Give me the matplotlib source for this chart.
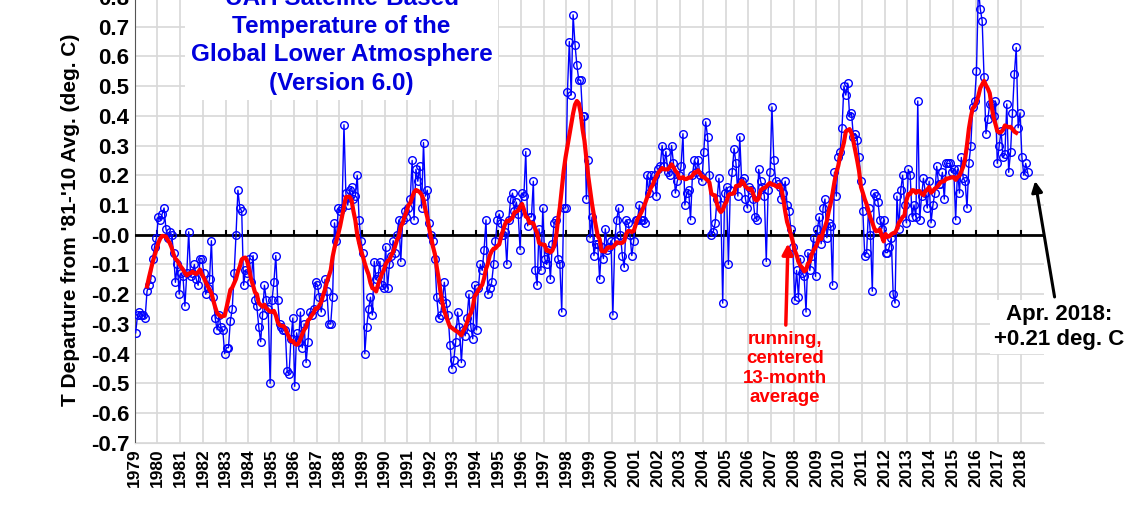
import numpy as np
import matplotlib.pyplot as plt

plt.rcParams['font.family'] = ['Liberation Sans', 'DejaVu Sans']

# UAH v6.0 monthly anomalies (deg. C), Jan 1979 .. Apr 2018
temps = [
    -0.33, -0.27, -0.26, -0.27, -0.27, -0.28, -0.19, -0.17, -0.15, -0.08, -0.04, -0.01,  # 1979
    0.06, 0.05, 0.07, 0.09, 0.02, -0.01, 0.01, 0.00, -0.06, -0.16, -0.10, -0.20,  # 1980
    -0.13, -0.14, -0.24, -0.13, 0.01, -0.14, -0.13, -0.10, -0.15, -0.17, -0.08, -0.08,  # 1981
    -0.13, -0.20, -0.18, -0.15, -0.02, -0.21, -0.28, -0.32, -0.27, -0.31, -0.32, -0.40,  # 1982
    -0.38, -0.38, -0.29, -0.25, -0.13, 0.00, 0.15, 0.09, 0.08, -0.17, -0.12, -0.13,  # 1983
    -0.08, -0.16, -0.07, -0.22, -0.24, -0.31, -0.36, -0.27, -0.17, -0.22, -0.25, -0.50,  # 1984
    -0.22, -0.16, -0.07, -0.22, -0.30, -0.31, -0.32, -0.32, -0.46, -0.47, -0.35, -0.28,  # 1985
    -0.51, -0.33, -0.36, -0.26, -0.38, -0.30, -0.43, -0.36, -0.26, -0.27, -0.25, -0.16,  # 1986
    -0.17, -0.21, -0.26, -0.21, -0.15, -0.19, -0.30, -0.30, -0.21, 0.04, -0.02, 0.09,  # 1987
    0.08, 0.09, 0.37, 0.14, 0.10, 0.15, 0.16, 0.12, 0.13, 0.20, 0.05, -0.02,  # 1988
    -0.06, -0.40, -0.31, -0.25, -0.21, -0.27, -0.09, -0.15, -0.14, -0.09, -0.17, -0.18,  # 1989
    -0.04, -0.18, -0.10, -0.07, -0.02, -0.06, 0.00, 0.05, -0.09, 0.05, 0.08, 0.06,  # 1990
    0.09, 0.12, 0.25, 0.05, 0.22, 0.18, 0.23, 0.09, 0.31, 0.13, 0.15, 0.04,  # 1991
    0.00, -0.02, -0.08, -0.21, -0.28, -0.27, -0.22, -0.16, -0.23, -0.27, -0.37, -0.45,  # 1992
    -0.42, -0.36, -0.26, -0.31, -0.43, -0.32, -0.34, -0.28, -0.20, -0.31, -0.35, -0.17,  # 1993
    -0.32, -0.18, -0.10, -0.12, -0.05, 0.05, -0.20, -0.18, -0.16, -0.10, -0.02, 0.05,  # 1994
    0.07, 0.04, 0.00, 0.01, -0.10, 0.05, 0.12, 0.14, 0.08, 0.11, 0.07, -0.05,  # 1995
    0.14, 0.13, 0.28, 0.03, 0.06, 0.06, 0.18, -0.12, -0.17, 0.02, -0.12, 0.09,  # 1996
    -0.08, -0.10, -0.05, -0.15, -0.03, 0.04, 0.05, -0.08, -0.10, -0.26, 0.09, 0.09,  # 1997
    0.48, 0.65, 0.47, 0.74, 0.64, 0.57, 0.52, 0.52, 0.40, 0.40, 0.12, 0.25,  # 1998
    -0.01, 0.06, -0.07, -0.03, -0.03, -0.15, -0.04, -0.08, 0.02, -0.05, -0.04, -0.02,  # 1999
    -0.27, -0.02, 0.05, 0.09, 0.00, -0.07, -0.11, 0.05, 0.04, 0.00, -0.07, -0.02,  # 2000
    0.05, 0.05, 0.10, 0.05, 0.05, 0.04, 0.20, 0.14, 0.20, 0.18, 0.20, 0.13,  # 2001
    0.22, 0.23, 0.30, 0.23, 0.28, 0.21, 0.20, 0.30, 0.24, 0.14, 0.18, 0.20,  # 2002
    0.23, 0.34, 0.10, 0.14, 0.15, 0.05, 0.20, 0.25, 0.21, 0.25, 0.20, 0.18,  # 2003
    0.28, 0.38, 0.33, 0.20, 0.00, 0.01, 0.04, 0.12, 0.19, 0.10, -0.23, 0.14,  # 2004
    0.16, -0.10, 0.15, 0.21, 0.29, 0.24, 0.13, 0.33, 0.18, 0.19, 0.12, 0.09,  # 2005
    0.16, 0.15, 0.12, 0.06, 0.05, 0.22, 0.18, 0.16, 0.13, -0.09, 0.15, 0.21,  # 2006
    0.43, 0.25, 0.18, 0.17, 0.16, 0.12, 0.14, 0.18, 0.10, 0.08, 0.02, -0.04,  # 2007
    -0.22, -0.12, -0.21, -0.08, -0.13, -0.14, -0.26, -0.06, -0.12, -0.07, -0.01, -0.14,  # 2008
    0.02, 0.06, -0.03, 0.09, 0.12, -0.01, 0.04, 0.03, -0.17, 0.21, 0.13, 0.26,  # 2009
    0.28, 0.36, 0.50, 0.47, 0.51, 0.40, 0.41, 0.33, 0.34, 0.32, 0.26, 0.18,  # 2010
    0.08, -0.07, -0.06, 0.09, 0.00, -0.19, 0.14, 0.13, 0.11, 0.05, 0.02, 0.05,  # 2011
    -0.06, -0.06, -0.04, -0.01, -0.20, -0.23, 0.13, 0.02, 0.15, 0.20, 0.10, 0.04,  # 2012
    0.22, 0.20, 0.06, 0.10, 0.06, 0.45, 0.05, 0.13, 0.19, 0.14, 0.09, 0.18,  # 2013
    0.04, 0.10, 0.14, 0.23, 0.17, 0.17, 0.21, 0.12, 0.24, 0.24, 0.24, 0.21,  # 2014
    0.22, 0.05, 0.22, 0.14, 0.26, 0.19, 0.18, 0.09, 0.24, 0.30, 0.43, 0.45,  # 2015
    0.55, 0.83, 0.76, 0.72, 0.53, 0.34, 0.39, 0.44, 0.44, 0.40, 0.45, 0.24,  # 2016
    0.30, 0.35, 0.26, 0.27, 0.44, 0.21, 0.28, 0.41, 0.54, 0.63, 0.36, 0.41,  # 2017
    0.26, 0.20, 0.24, 0.21,  # 2018
]
years = list(range(1979, 2019))

temps = np.array(temps)
t = 1979 + np.arange(len(temps)) / 12.0 + 1 / 24.0
# running, centered 13-month average
run = np.convolve(temps, np.ones(13) / 13, mode='valid')
t_run = t[6:-6]

fig = plt.figure(figsize=(11.32, 5.09), dpi=100)
ax = fig.add_axes([0.119, 0.130, 0.803, 0.876])

ax.set_xlim(1979, 2019)
ax.set_ylim(-0.7, 0.8)
ax.set_xticks(years)
ax.set_xticklabels([str(y) for y in years], rotation=90, fontsize=12.5, fontweight='bold')
ax.set_yticks(np.round(np.arange(-0.7, 0.81, 0.1), 1))
ax.set_yticklabels(['%.1f' % v for v in np.arange(-0.7, 0.81, 0.1)], fontsize=16, fontweight='bold')
ax.tick_params(axis='both', length=0, pad=4)
ax.grid(True, color='#d8d8d8', lw=1.2)
ax.set_axisbelow(True)
for s in ['top', 'right']:
    ax.spines[s].set_visible(False)
ax.spines['bottom'].set_color('#d8d8d8')
ax.spines['left'].set_color('#555555')

ax.set_ylabel("T Departure from '81-'10 Avg. (deg. C)", fontsize=15, fontweight='bold', labelpad=8)

# zero line with year ticks
ax.axhline(0, color='black', lw=2, zorder=3)
for y in years[1:]:
    ax.plot([y, y], [0, 0.012], color='black', lw=1.5, zorder=3)

ax.plot(t, temps, color='#0000ff', lw=1, marker='o', ms=5.5, mfc='none', mew=1, zorder=4)
ax.plot(t_run, run, color='#ff0000', lw=3, zorder=5)

# title box masking the grid
ax.text(1988.1, 0.835, 'UAH Satellite-Based\nTemperature of the\nGlobal Lower Atmosphere\n(Version 6.0)',
        ha='center', va='top', color='#0000dd', fontsize=17.5, fontweight='bold', linespacing=1.3,
        bbox=dict(facecolor='white', edgecolor='none', pad=4), zorder=6)

ax.annotate('Apr. 2018:\n+0.21 deg. C', xy=(2018.6, 0.19), xytext=(2019.7, -0.31),
            ha='center', va='center', fontsize=16, fontweight='bold', linespacing=1.25,
            bbox=dict(facecolor='white', edgecolor='none', pad=3), annotation_clip=False,
            arrowprops=dict(arrowstyle='-|>', color='black', lw=2.2, mutation_scale=16), zorder=6)

ax.annotate('running,\ncentered\n13-month\naverage', xy=(2007.75, -0.02), xytext=(2007.6, -0.45),
            ha='center', va='center', color='#ff0000', fontsize=13.5, fontweight='bold', linespacing=1.2,
            arrowprops=dict(arrowstyle='-|>', color='#ff0000', lw=2.5, mutation_scale=16), zorder=6)

fig.savefig('out.png', dpi=100)
